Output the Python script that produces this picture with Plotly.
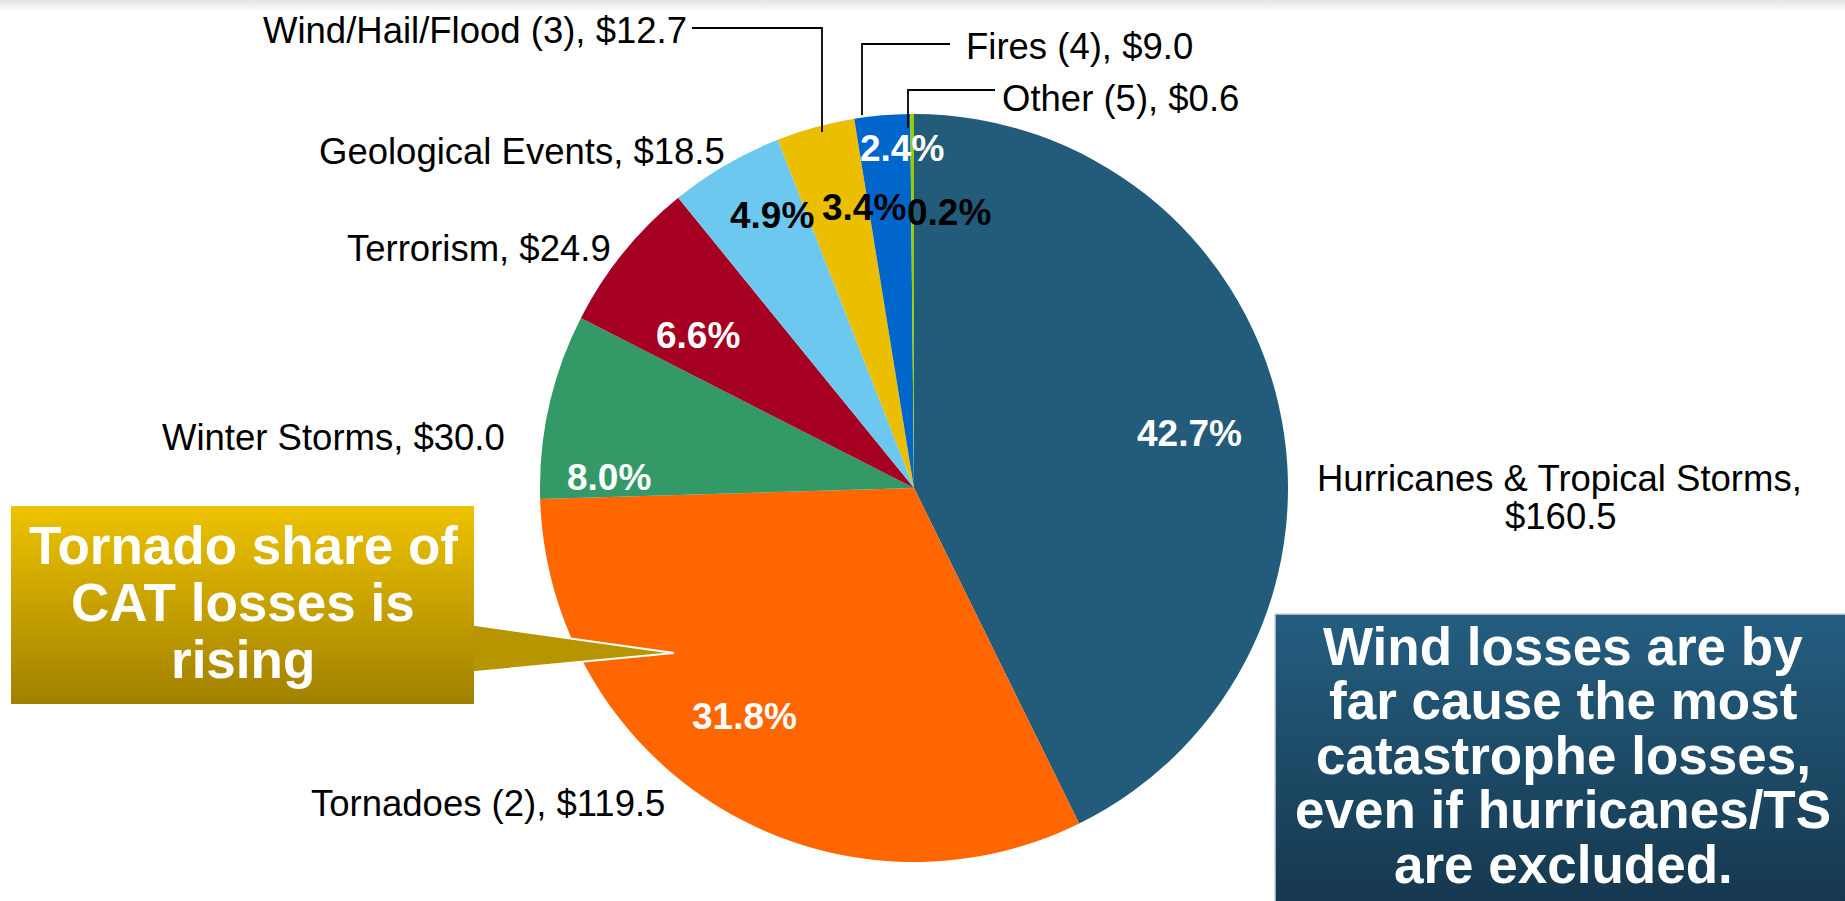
import plotly.graph_objects as go

# ---------------- data ----------------
categories = ["Hurricanes & Tropical Storms", "Tornadoes (2)", "Winter Storms", "Terrorism",
              "Geological Events", "Wind/Hail/Flood (3)", "Fires (4)", "Other (5)"]
losses = [160.5, 119.5, 30.0, 24.9, 18.5, 12.7, 9.0, 0.6]
slice_colors = ["#235B7B", "#FF6600", "#339966", "#A50021", "#6CC8EE", "#EBBF00", "#0066CC", "#99CC00"]
pct_text_colors = ["white", "white", "white", "white", "black", "black", "white", "black"]

callout_tornado = ["Tornado share of", "CAT losses is", "rising"]
callout_wind = ["Wind losses are by", "far cause the most", "catastrophe losses,",
                "even if hurricanes/TS", "are excluded."]

# ---------------- layout helpers (pixel positions) ----------------
W, H = 1845, 901
FONT = "Liberation Sans, Arial, sans-serif"
cx, cy, R = 914, 488, 374

pct_pos = [(1189, 433), (744, 716), (609, 477), (698, 335), (772, 215), (864, 207), (902, 148), (949, 212)]
# (x, y, xanchor)
lab_pos = [None, (309, 803, "left"), (160, 437, "left"), (345, 248, "left"), (317, 151, "left"),
           (261, 30, "left"), (964, 46, "left"), (1000, 98, "left")]

total = sum(losses)
pcts = [v / total * 100 for v in losses]

fig = go.Figure()

# hidden pixel-space axes for callouts
fig.update_layout(
    xaxis=dict(range=[0, W], visible=False, fixedrange=True, domain=[0, 1]),
    yaxis=dict(range=[H, 0], visible=False, fixedrange=True, domain=[0, 1]),
)

# top faint band
fig.add_trace(go.Scatter(x=[0, W, W, 0, 0], y=[0, 0, 12, 12, 0], mode="lines", fill="toself",
                         line=dict(width=0), hoverinfo="skip", showlegend=False,
                         fillgradient=dict(type="vertical", colorscale=[[0, "#e4e4e4"], [1, "#ffffff"]],
                                           start=0, stop=12)))

# gold callout
gx = [10, 475, 475, 674, 475, 475, 10, 10]
gy = [505, 505, 625, 653, 672, 705, 705, 505]
gold_top, gold_bot = "#EEC300", "#A08000"
fig.add_trace(go.Scatter(x=gx, y=gy, mode="lines", fill="toself", line=dict(color="white", width=2),
                         hoverinfo="skip", showlegend=False,
                         fillgradient=dict(type="vertical", colorscale=[[0, gold_top], [1, gold_bot]],
                                           start=505, stop=705)))
# blue callout
bx = [1275, 1850, 1850, 1275, 1275]
by = [614, 614, 905, 905, 614]
fig.add_trace(go.Scatter(x=bx, y=by, mode="lines", fill="toself", line=dict(color="#c9d3dc", width=1.5),
                         hoverinfo="skip", showlegend=False,
                         fillgradient=dict(type="vertical", colorscale=[[0, "#245E80"], [1, "#16384F"]],
                                           start=614, stop=901)))

# pie
x0, x1 = (cx - R) / W, (cx + R) / W
y0, y1 = 1 - (cy + R) / H, 1 - (cy - R) / H
fig.add_trace(go.Pie(labels=categories, values=losses, sort=False, direction="clockwise", rotation=0,
                     marker=dict(colors=slice_colors, line=dict(width=0)), textinfo="none",
                     hoverinfo="label+value+percent", showlegend=False,
                     domain=dict(x=[x0, x1], y=[y0, y1])))

shapes = []
# arrow tip overlay (above pie)
shapes.append(dict(type="path", path="M 475 625 L 674 653 L 475 672 Z", xref="x", yref="y",
                   fillcolor="#B69500", line=dict(color="white", width=2), layer="above"))
shapes.append(dict(type="line", x0=475, x1=475, y0=626, y1=671, xref="x", yref="y",
                   line=dict(color="#B69500", width=3), layer="above"))
# leader lines
for p in ["M 692 28 L 822 28 L 822 132", "M 950 44 L 862 44 L 862 115", "M 995 90 L 908 90 L 908 128"]:
    shapes.append(dict(type="path", path=p, xref="x", yref="y", line=dict(color="black", width=1.8),
                       layer="above"))

ann = []
for i, (x, y) in enumerate(pct_pos):
    ann.append(dict(x=x, y=y, xref="x", yref="y", text=f"<b>{pcts[i]:.1f}%</b>", showarrow=False,
                    xanchor="center", yanchor="middle",
                    font=dict(family=FONT, size=37, color=pct_text_colors[i])))
# hurricane label (2 lines)
ann.append(dict(x=1559, y=478, xref="x", yref="y", text=f"{categories[0]},", showarrow=False,
                xanchor="center", yanchor="middle", font=dict(family=FONT, size=36.5, color="black")))
ann.append(dict(x=1561, y=516, xref="x", yref="y", text=f"${losses[0]:.1f}", showarrow=False,
                xanchor="center", yanchor="middle", font=dict(family=FONT, size=36.5, color="black")))
for i in range(1, len(categories)):
    x, y, xa = lab_pos[i]
    ann.append(dict(x=x, y=y, xref="x", yref="y", text=f"{categories[i]}, ${losses[i]:.1f}",
                    showarrow=False, xanchor=xa, yanchor="middle",
                    font=dict(family=FONT, size=36.5, color="black")))
for j, t in enumerate(callout_tornado):
    ann.append(dict(x=243, y=545 + 57 * j, xref="x", yref="y", text=f"<b>{t}</b>", showarrow=False,
                    xanchor="center", yanchor="middle", font=dict(family=FONT, size=53, color="white")))
for j, t in enumerate(callout_wind):
    ann.append(dict(x=1563, y=646 + 54.5 * j, xref="x", yref="y", text=f"<b>{t}</b>", showarrow=False,
                    xanchor="center", yanchor="middle", font=dict(family=FONT, size=53, color="white")))

fig.update_layout(width=W, height=H, margin=dict(l=0, r=0, t=0, b=0), paper_bgcolor="white",
                  plot_bgcolor="white", shapes=shapes, annotations=ann, showlegend=False)

fig.write_html("out.html", config={"displayModeBar": False},
               post_script="document.body.style.margin='0';document.body.style.overflow='hidden';")
